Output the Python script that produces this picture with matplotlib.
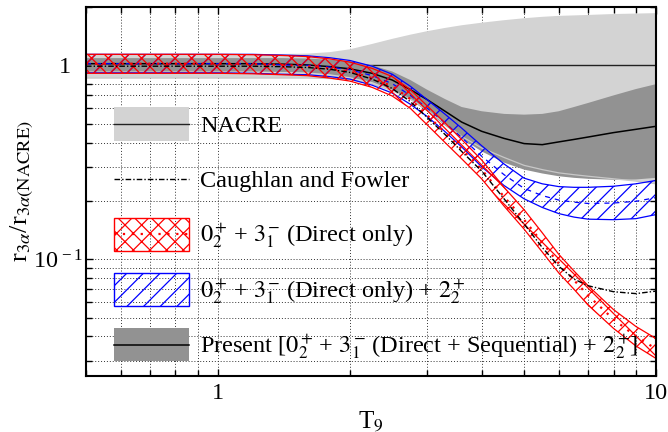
import matplotlib
matplotlib.use("Agg")
import matplotlib.pyplot as plt
from matplotlib.patches import Rectangle
from matplotlib.lines import Line2D
from matplotlib.ticker import FixedLocator, FixedFormatter, NullFormatter

plt.rcParams['font.family'] = ['Liberation Serif', 'DejaVu Serif']
plt.rcParams['mathtext.fontset'] = 'stix'
plt.rcParams['hatch.linewidth'] = 0.9

# ---- data ----
T9 = [0.5, 0.7, 1.0, 1.2, 1.4, 1.6, 1.8, 2.0, 2.25, 2.5, 2.75, 3.0, 3.3, 3.6,
      4.0, 4.5, 5.0, 5.5, 6.0, 6.5, 7.0, 8.0, 9.0, 10.0]

# NACRE band
nacre_center = [1.0] * 24
nacre_upper = [1.14, 1.14, 1.14, 1.14, 1.145, 1.15, 1.17, 1.21, 1.29, 1.37, 1.44, 1.50,
               1.56, 1.61, 1.66, 1.71, 1.75, 1.78, 1.80, 1.81, 1.82, 1.84, 1.85, 1.86]
nacre_lower = [0.86, 0.86, 0.86, 0.86, 0.86, 0.86, 0.855, 0.845, 0.80, 0.74, 0.67, 0.59,
               0.50, 0.43, 0.375, 0.335, 0.305, 0.29, 0.279, 0.273, 0.268, 0.26, 0.253, 0.245]

# Caughlan and Fowler
cf = [0.99, 0.99, 0.99, 0.99, 0.985, 0.975, 0.955, 0.92, 0.85, 0.76, 0.65, 0.54,
      0.44, 0.36, 0.285, 0.205, 0.152, 0.115, 0.092, 0.079, 0.073, 0.068, 0.0665, 0.0685]

# 0+2 + 3-1 (Direct only)
red_center = [1.02, 1.02, 1.02, 1.015, 1.005, 0.99, 0.965, 0.93, 0.86, 0.78, 0.67, 0.555,
              0.45, 0.37, 0.29, 0.21, 0.16, 0.122, 0.095, 0.078, 0.065, 0.049, 0.040, 0.0345]
red_upper = [1.14, 1.14, 1.14, 1.135, 1.125, 1.11, 1.08, 1.04, 0.965, 0.875, 0.75, 0.62,
             0.505, 0.415, 0.325, 0.235, 0.18, 0.137, 0.106, 0.087, 0.073, 0.055, 0.045, 0.039]
red_lower = [0.91, 0.91, 0.91, 0.905, 0.895, 0.885, 0.86, 0.83, 0.77, 0.695, 0.60, 0.495,
             0.40, 0.33, 0.26, 0.188, 0.143, 0.109, 0.085, 0.070, 0.058, 0.044, 0.0357, 0.0308]

# 0+2 + 3-1 (Direct only) + 2+2
blue_center = [1.02, 1.02, 1.02, 1.02, 1.005, 1.0, 0.98, 0.95, 0.885, 0.805, 0.70, 0.603,
               0.505, 0.425, 0.34, 0.273, 0.232, 0.213, 0.202, 0.197, 0.194, 0.195, 0.199, 0.208]
blue_upper = [1.14, 1.14, 1.14, 1.14, 1.13, 1.12, 1.095, 1.06, 0.99, 0.90, 0.78, 0.667,
              0.56, 0.475, 0.385, 0.31, 0.262, 0.245, 0.237, 0.235, 0.235, 0.238, 0.245, 0.255]
blue_lower = [0.915, 0.915, 0.915, 0.91, 0.90, 0.895, 0.875, 0.85, 0.79, 0.72, 0.63, 0.546,
              0.455, 0.38, 0.30, 0.24, 0.205, 0.185, 0.172, 0.165, 0.161, 0.160, 0.162, 0.170]

# Present
present_center = [1.02, 1.02, 1.02, 1.02, 1.015, 1.005, 0.985, 0.96, 0.91, 0.84, 0.75, 0.667,
                  0.58, 0.51, 0.457, 0.42, 0.395, 0.39, 0.403, 0.415, 0.427, 0.45, 0.468, 0.485]
present_upper = [1.09, 1.09, 1.09, 1.09, 1.09, 1.085, 1.07, 1.05, 1.0, 0.93, 0.84, 0.75,
                 0.67, 0.61, 0.58, 0.562, 0.557, 0.562, 0.58, 0.61, 0.64, 0.70, 0.755, 0.80]
present_lower = [0.93, 0.93, 0.93, 0.93, 0.925, 0.92, 0.90, 0.87, 0.82, 0.75, 0.665, 0.58,
                 0.49, 0.42, 0.36, 0.315, 0.29, 0.277, 0.268, 0.263, 0.26, 0.257, 0.258, 0.263]

labels = ["NACRE",
          "Caughlan and Fowler",
          r"$0_2^+\!$ + $3_1^-\!$ (Direct only)",
          r"$0_2^+\!$ + $3_1^-\!$ (Direct only) + $2_2^+$",
          r"Present [$0_2^+\!$ + $3_1^-\!$ (Direct + Sequential) + $2_2^+\!$]"]

LIGHT = '#d3d3d3'
DARK = '#929292'
FS = 17.5

W, H = 668, 432
AX_L, AX_R, AX_T, AX_B = 86, 656, 7, 376
fig = plt.figure(figsize=(W / 100, H / 100), dpi=100)
ax = fig.add_axes([AX_L / W, 1 - AX_B / H, (AX_R - AX_L) / W, (AX_B - AX_T) / H])
ax.set_xscale('log')
ax.set_yscale('log')
ax.set_xlim(0.5, 10)
ax.set_ylim(0.025, 2.0)

ax.set_axisbelow(True)
ax.grid(True, which='both', color='#333333', linestyle=(0, (1, 2)), linewidth=0.7)

# NACRE
ax.fill_between(T9, nacre_lower, nacre_upper, facecolor=LIGHT, edgecolor='none', zorder=1)
ax.plot(T9, nacre_center, color='#222222', lw=1.0, zorder=2)
# Present
ax.fill_between(T9, present_lower, present_upper, facecolor=DARK, edgecolor='none', zorder=3)
ax.plot(T9, nacre_lower, color='#c8c8c8', lw=0.9, zorder=3.5)
ax.plot(T9, present_center, color='black', lw=1.1, zorder=4)
# blue band
ax.fill_between(T9, blue_lower, blue_upper, facecolor='none', edgecolor='blue',
                hatch='//', lw=0, zorder=5)
ax.plot(T9, blue_upper, color='blue', lw=0.9, zorder=5)
ax.plot(T9, blue_lower, color='blue', lw=0.9, zorder=5)
ax.plot(T9, blue_center, color='blue', lw=0.9, ls=(0, (4, 4)), zorder=5)
# red band
ax.fill_between(T9, red_lower, red_upper, facecolor='none', edgecolor='red',
                hatch='xx', lw=0, zorder=6)
ax.plot(T9, red_upper, color='red', lw=0.9, zorder=6)
ax.plot(T9, red_lower, color='red', lw=0.9, zorder=6)
ax.plot(T9, red_center, color='red', lw=1.6, ls=(0, (1, 3)), zorder=6)
# Caughlan & Fowler
ax.plot(T9, cf, color='black', lw=1.0, ls=(0, (4, 1.5, 1, 1.5)), zorder=7)

# ticks
ax.xaxis.set_major_locator(FixedLocator([1, 10]))
ax.xaxis.set_major_formatter(FixedFormatter(['1', '10']))
ax.xaxis.set_minor_locator(FixedLocator([0.5, 0.6, 0.7, 0.8, 0.9, 2, 3, 4, 5, 6, 7, 8, 9]))
ax.xaxis.set_minor_formatter(NullFormatter())
ax.yaxis.set_major_locator(FixedLocator([0.1, 1]))
ax.yaxis.set_major_formatter(FixedFormatter([r'$\mathregular{10^{\,-1}}$', '1\u2002']))
ax.yaxis.set_minor_locator(FixedLocator([0.03, 0.04, 0.05, 0.06, 0.07, 0.08, 0.09,
                                         0.2, 0.3, 0.4, 0.5, 0.6, 0.7, 0.8, 0.9, 2]))
ax.yaxis.set_minor_formatter(NullFormatter())
ax.tick_params(which='both', direction='in', top=True, right=True, labelsize=FS, width=1)
ax.tick_params(which='major', length=5)
ax.tick_params(which='minor', length=4)
ax.tick_params(axis='x', pad=5)
ax.tick_params(axis='y', pad=2)
for s in ax.spines.values():
    s.set_linewidth(1.5)
    s.set_zorder(10)

ax.set_xlabel(r'T$_9$', fontsize=18, labelpad=4)
ax.set_ylabel(r'r$_{3\alpha}$/r$_{3\alpha(\mathrm{NACRE})}$', fontsize=19)
ax.yaxis.set_label_coords((36 - AX_L) / (AX_R - AX_L), 0.5)

# ---- manual legend (layout in pixels -> axes fraction) ----
def fx(px):
    return (px - AX_L) / (AX_R - AX_L)

def fy(py):
    return (AX_B - py) / (AX_B - AX_T)

row_centers = [124, 179, 234, 289.5, 344.7]
box_x0, box_x1, box_h = 114, 189, 33
text_x = 200
tr = ax.transAxes

def add_box(yc, **kw):
    r = Rectangle((fx(box_x0), fy(yc + box_h / 2)), fx(box_x1) - fx(box_x0),
                  fy(yc - box_h / 2) - fy(yc + box_h / 2), transform=tr, zorder=20, **kw)
    ax.add_patch(r)

def add_line(yc, **kw):
    ax.add_line(Line2D([fx(box_x0), fx(box_x1)], [fy(yc), fy(yc)], transform=tr,
                       zorder=21, **kw))

yc = row_centers
add_box(yc[0], facecolor=LIGHT, edgecolor='none')
add_line(yc[0], color='#222222', lw=1.0)
add_line(yc[1], color='black', lw=1.0, ls=(0, (4, 1.5, 1, 1.5)))
add_box(yc[2], facecolor='none', edgecolor='red', hatch='xx', lw=1.0)
add_line(yc[2], color='red', lw=1.6, ls=(0, (1, 3)))
add_box(yc[3], facecolor='none', edgecolor='blue', hatch='//', lw=1.0)
add_box(yc[4], facecolor=DARK, edgecolor='none')
add_line(yc[4], color='black', lw=1.1)

for c, lab in zip(row_centers, labels):
    ax.text(fx(text_x), fy(c + 7.5), lab, transform=tr, fontsize=FS, va='baseline',
            ha='left', zorder=22)

fig.savefig('out.png', dpi=100)
